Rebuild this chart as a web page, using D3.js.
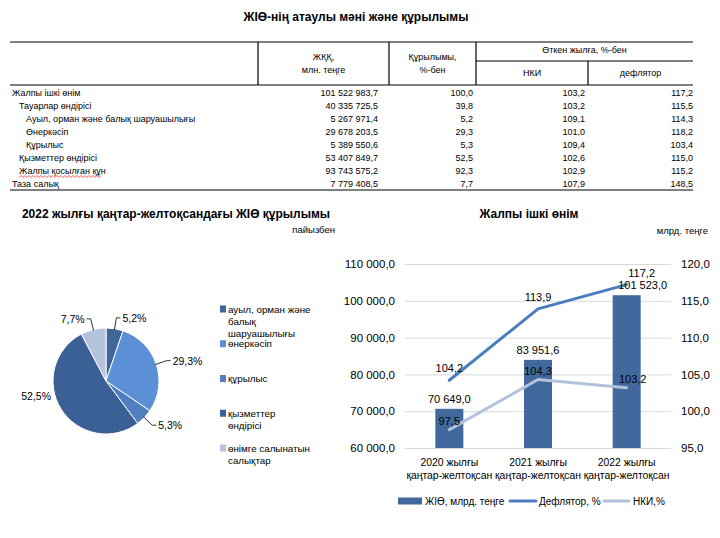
<!DOCTYPE html>
<html>
<head>
<meta charset="utf-8">
<script src="https://cdn.jsdelivr.net/npm/d3@7"></script>
<style>
  body { margin: 0; background: #fff; }
  svg text { font-family: "Liberation Sans", Arial, sans-serif; fill: #000; }
</style>
</head>
<body>
<div id="vis"></div>
<script>
// Table data
const rowNames = ["Жалпы ішкі өнім", "Тауарлар өндірісі", "Ауыл, орман және балық шаруашылығы",
                  "Өнеркәсіп", "Құрылыс", "Қызметтер өндірісі", "Жалпы қосылған құн", "Таза салық"];
const rowLevels = [0, 1, 2, 2, 2, 1, 1, 0];
const gvaValues = [101522983.7, 40335725.5, 5267971.4, 29678203.5, 5389550.6, 53407849.7, 93743575.2, 7779408.5];
const shareValues = [100.0, 39.8, 5.2, 29.3, 5.3, 52.5, 92.3, 7.7];
const cpiRowValues = [103.2, 103.2, 109.1, 101.0, 109.4, 102.6, 102.9, 107.9];
const deflatorRowValues = [117.2, 115.5, 114.3, 118.2, 103.4, 115.0, 115.2, 148.5];

// Pie data
const pieNames = [["ауыл, орман және", "балық", "шаруашылығы"], ["өнеркәсіп"], ["құрылыс"],
                  ["қызметтер", "өндірісі"], ["өнімге салынатын", "салықтар"]];
const pieValues = [5.2, 29.3, 5.3, 52.5, 7.7];

// Combo chart data
const periods = [["2020 жылғы", "қаңтар-желтоқсан"], ["2021 жылғы", "қаңтар-желтоқсан"], ["2022 жылғы", "қаңтар-желтоқсан"]];
const gdpValues = [70649.0, 83951.6, 101523.0];
const deflatorValues = [104.2, 113.9, 117.2];
const cpiValues = [97.5, 104.3, 103.2];
const leftTicks = [60000, 70000, 80000, 90000, 100000, 110000];
const rightTicks = [95, 100, 105, 110, 115, 120];

const WIDTH = 720, HEIGHT = 538;
const PIE_COLORS = ["#3e6698", "#5b8fd6", "#4f7fc1", "#3b6095", "#b5c3dd"];
const BAR_COLOR = "#41699d";
const DEF_COLOR = "#4a7dbd";
const CPI_COLOR = "#b3c2dc";

const locale = d3.formatLocale({decimal: ",", thousands: " ", grouping: [3], currency: ["", ""]});
const fmt = locale.format(",.1f");
const fmt1 = locale.format(".1f");

const svg = d3.select("#vis").append("svg")
    .attr("width", WIDTH)
    .attr("height", HEIGHT);

// ---------- Table ----------
svg.append("text")
    .attr("x", 356).attr("y", 17)
    .attr("text-anchor", "middle").attr("dominant-baseline", "central")
    .attr("font-size", "12px").attr("font-weight", "bold")
    .text("ЖІӨ-нің атаулы мәні және құрылымы");

const T_LEFT = 10, T_RIGHT = 693, T_TOP = 42, T_HEAD = 85;
const colEdges = [T_LEFT, 258, 389, 476, 588, T_RIGHT];
const valueEnds = [378, 473, 585, 693];

const rowY = d3.scaleBand()
    .domain(d3.range(rowNames.length))
    .range([T_HEAD, T_HEAD + 13 * rowNames.length]);

const lineStyle = (sel) => sel.attr("stroke", "#000").attr("stroke-width", 1.2);

svg.append("line").call(lineStyle).attr("x1", T_LEFT).attr("x2", T_RIGHT).attr("y1", T_TOP).attr("y2", T_TOP);
svg.append("line").call(lineStyle).attr("x1", T_LEFT).attr("x2", T_RIGHT).attr("y1", T_HEAD).attr("y2", T_HEAD);
svg.append("line").call(lineStyle).attr("x1", colEdges[3]).attr("x2", T_RIGHT).attr("y1", 61).attr("y2", 61);
svg.append("line").call(lineStyle).attr("x1", T_LEFT).attr("x2", T_RIGHT)
    .attr("y1", rowY.range()[1] + 1).attr("y2", rowY.range()[1] + 1);
[1, 2, 3].forEach((i) => {
  svg.append("line").call(lineStyle).attr("x1", colEdges[i]).attr("x2", colEdges[i]).attr("y1", T_TOP).attr("y2", T_HEAD);
});
svg.append("line").call(lineStyle).attr("x1", colEdges[4]).attr("x2", colEdges[4]).attr("y1", 61).attr("y2", T_HEAD);

const headText = (x, y, t) => svg.append("text")
    .attr("x", x).attr("y", y)
    .attr("text-anchor", "middle").attr("dominant-baseline", "central")
    .attr("font-size", "9px").text(t);
headText((colEdges[1] + colEdges[2]) / 2, 57, "ЖҚҚ,");
headText((colEdges[1] + colEdges[2]) / 2, 70, "млн. теңге");
headText((colEdges[2] + colEdges[3]) / 2, 57, "Құрылымы,");
headText((colEdges[2] + colEdges[3]) / 2, 70, "%-бен");
headText((colEdges[3] + colEdges[5]) / 2, 50, "Өткен жылға, %-бен");
headText((colEdges[3] + colEdges[4]) / 2, 73, "НКИ");
headText((colEdges[4] + colEdges[5]) / 2, 73, "дефлятор");

const rows = svg.selectAll(".row")
    .data(rowNames)
    .enter()
    .append("g")
      .attr("class", "row")
      .attr("transform", (d, i) => "translate(0," + (rowY(i) + rowY.bandwidth() / 2 + 1) + ")");

rows.append("text")
    .attr("x", (d, i) => 12 + rowLevels[i] * 7)
    .attr("dominant-baseline", "central")
    .attr("font-size", "9px")
    .text((d) => d);

const cols = [gvaValues, shareValues, cpiRowValues, deflatorRowValues];
cols.forEach((arr, c) => {
  rows.append("text")
      .attr("x", valueEnds[c])
      .attr("text-anchor", "end")
      .attr("dominant-baseline", "central")
      .attr("font-size", "9px")
      .text((d, i) => fmt(arr[i]));
});

// spell-check squiggle under "Жалпы қосылған құн"
const sq = d3.range(19, 103, 2).map((x, i) => [x, rowY(6) + rowY.bandwidth() / 2 + 7 + (i % 2 ? -1 : 1)]);
svg.append("path")
    .attr("d", d3.line()(sq))
    .attr("fill", "none").attr("stroke", "#e03030").attr("stroke-width", 0.8);

// ---------- Pie ----------
svg.append("text")
    .attr("x", 176).attr("y", 214)
    .attr("text-anchor", "middle").attr("dominant-baseline", "central")
    .attr("font-size", "12px").attr("font-weight", "bold")
    .text("2022 жылғы қаңтар-желтоқсандағы ЖІӨ құрылымы");
svg.append("text")
    .attr("x", 335).attr("y", 229)
    .attr("text-anchor", "end").attr("dominant-baseline", "central")
    .attr("font-size", "9.5px")
    .text("пайызбен");

const PIE_CX = 106, PIE_CY = 381, R = 53;
const pie = d3.pie().sort(null).value((d) => d);
const arcs = pie(pieValues);
const arc = d3.arc().innerRadius(0).outerRadius(R);

const pieG = svg.append("g").attr("transform", "translate(" + PIE_CX + "," + PIE_CY + ")");
pieG.selectAll("path")
    .data(arcs)
    .enter()
    .append("path")
      .attr("d", arc)
      .attr("fill", (d, i) => PIE_COLORS[i])
      .attr("stroke", "#fff")
      .attr("stroke-width", 1);

const pt = (a, r) => [Math.sin(a) * r, -Math.cos(a) * r];
arcs.forEach((d, i) => {
  const mid = (d.startAngle + d.endAngle) / 2;
  const right = Math.sin(mid) >= 0;
  const p1 = pt(mid, R - 1);
  const p2 = pt(mid, R + 11);
  const big = d.value > 40;
  if (!big) {
    const p3 = [p2[0] + (right ? 4 : -4), p2[1]];
    pieG.append("path")
        .attr("d", d3.line()([p1, p2, p3]))
        .attr("fill", "none").attr("stroke", "#000").attr("stroke-width", 0.8);
  }
  const lp = big ? pt(mid, R + 12) : [p2[0] + (right ? 6 : -6), p2[1]];
  pieG.append("text")
      .attr("x", lp[0]).attr("y", big ? lp[1] - 20 : lp[1])
      .attr("text-anchor", right ? "start" : "end")
      .attr("dominant-baseline", "central")
      .attr("font-size", "10.5px")
      .text(fmt1(d.value) + "%");
});

// pie legend
const legY = d3.scalePoint().domain(d3.range(pieNames.length)).range([309, 448]);
const leg = svg.selectAll(".pleg")
    .data(pieNames)
    .enter()
    .append("g")
      .attr("class", "pleg")
      .attr("transform", (d, i) => "translate(220," + legY(i) + ")");
leg.append("rect")
    .attr("x", 0).attr("y", -3.5).attr("width", 6).attr("height", 7)
    .attr("fill", (d, i) => PIE_COLORS[i]);
leg.each(function (lines) {
  d3.select(this).selectAll("text")
      .data(lines)
      .enter()
      .append("text")
        .attr("x", 8)
        .attr("y", (d, j) => j * 12)
        .attr("dominant-baseline", "central")
        .attr("font-size", "9.8px")
        .text((d) => d);
});

// ---------- Combo chart ----------
svg.append("text")
    .attr("x", 529).attr("y", 214)
    .attr("text-anchor", "middle").attr("dominant-baseline", "central")
    .attr("font-size", "12px").attr("font-weight", "bold")
    .text("Жалпы ішкі өнім");
svg.append("text")
    .attr("x", 708).attr("y", 230)
    .attr("text-anchor", "end").attr("dominant-baseline", "central")
    .attr("font-size", "9.5px")
    .text("млрд. теңге");

const PX0 = 405, PX1 = 671, PY0 = 264, PY1 = 448;
const X_SCALE = d3.scaleBand().domain(d3.range(periods.length)).range([PX0, PX1]);
const YL = d3.scaleLinear().domain([60000, 110000]).range([PY1, PY0]);
const YR = d3.scaleLinear().domain([95, 120]).range([PY1, PY0]);

// gridlines + left labels
const gl = svg.append("g")
    .attr("transform", "translate(" + PX0 + ",0)")
    .call(d3.axisLeft(YL).tickValues(leftTicks).tickSize(-(PX1 - PX0)).tickPadding(10).tickFormat(fmt));
gl.select(".domain").remove();
gl.selectAll("line").attr("stroke", "#d9d9d9");
gl.selectAll("text").attr("font-size", "11.5px").attr("font-family", "Liberation Sans, Arial, sans-serif").attr("fill", "#000");

const gr = svg.append("g")
    .attr("transform", "translate(" + PX1 + ",0)")
    .call(d3.axisRight(YR).tickValues(rightTicks).tickSize(0).tickPadding(10).tickFormat(fmt1));
gr.select(".domain").remove();
gr.selectAll("text").attr("font-size", "11.5px").attr("font-family", "Liberation Sans, Arial, sans-serif").attr("fill", "#000");

// x labels
periods.forEach((p, i) => {
  p.forEach((t, j) => {
    svg.append("text")
        .attr("x", X_SCALE(i) + X_SCALE.bandwidth() / 2)
        .attr("y", 462 + j * 13)
        .attr("text-anchor", "middle").attr("dominant-baseline", "central")
        .attr("font-size", "10.4px")
        .text(t);
  });
});

const BAR_W = 28;
svg.selectAll(".bar")
    .data(gdpValues)
    .enter()
    .append("rect")
      .attr("class", "bar")
      .attr("x", (d, i) => X_SCALE(i) + X_SCALE.bandwidth() / 2 - BAR_W / 2)
      .attr("y", (d) => YL(d))
      .attr("width", BAR_W)
      .attr("height", (d) => PY1 - YL(d))
      .attr("fill", BAR_COLOR);

const cx = (d, i) => X_SCALE(i) + X_SCALE.bandwidth() / 2;
const lineR = d3.line().x((d, i) => cx(d, i)).y((d) => YR(d));

svg.append("path").datum(deflatorValues)
    .attr("d", lineR).attr("fill", "none")
    .attr("stroke", DEF_COLOR).attr("stroke-width", 3).attr("stroke-linecap", "round").attr("stroke-linejoin", "round");
svg.append("path").datum(cpiValues)
    .attr("d", lineR).attr("fill", "none")
    .attr("stroke", CPI_COLOR).attr("stroke-width", 3).attr("stroke-linecap", "round").attr("stroke-linejoin", "round");

// data labels; the last period's labels sit a little to the right, as in the source
const valLabel = (arr, yf, dy, f, lastShift) => {
  svg.selectAll(null)
      .data(arr)
      .enter()
      .append("text")
        .attr("x", (d, i) => cx(d, i) + (i === arr.length - 1 ? lastShift : 0))
        .attr("y", (d) => yf(d) + dy)
        .attr("text-anchor", "middle").attr("dominant-baseline", "central")
        .attr("font-size", "11px")
        .text((d) => f(d));
};
valLabel(gdpValues, YL, -10, fmt, 16);
valLabel(deflatorValues, YR, -12, fmt1, 15);
valLabel(cpiValues, YR, -9, fmt1, 6);

// legend
const lg = svg.append("g").attr("transform", "translate(0,501)");
lg.append("rect").attr("x", 398).attr("y", -3.5).attr("width", 24).attr("height", 7).attr("fill", BAR_COLOR);
lg.append("text").attr("x", 425).attr("dominant-baseline", "central").attr("font-size", "10px").text("ЖІӨ, млрд. теңге");
lg.append("line").attr("x1", 510).attr("x2", 536).attr("stroke", DEF_COLOR).attr("stroke-width", 3).attr("stroke-linecap", "round");
lg.append("text").attr("x", 539).attr("dominant-baseline", "central").attr("font-size", "10px").text("Дефлятор, %");
lg.append("line").attr("x1", 604).attr("x2", 629).attr("stroke", CPI_COLOR).attr("stroke-width", 3).attr("stroke-linecap", "round");
lg.append("text").attr("x", 633).attr("dominant-baseline", "central").attr("font-size", "10px").text("НКИ,%");
</script>
</body>
</html>
